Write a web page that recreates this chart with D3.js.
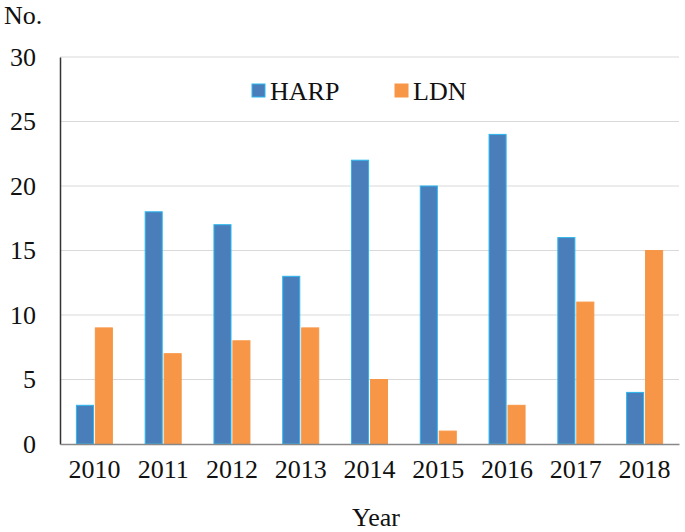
<!DOCTYPE html>
<html><head><meta charset="utf-8">
<script src="https://cdn.jsdelivr.net/npm/d3@7"></script>
<style>body{margin:0;background:#fff}svg{display:block}</style>
</head><body><svg id="c" width="685" height="532"></svg>
<script>
const years = ["2010","2011","2012","2013","2014","2015","2016","2017","2018"];
const harp = [3,18,17,13,22,20,24,16,4];
const ldn = [9,7,8,9,5,1,3,11,15];
const yTicks = [0,5,10,15,20,25,30];
const seriesNames = ["HARP","LDN"];

const FONT = "'Liberation Serif', 'Times New Roman', Times, 'DejaVu Serif', serif";
const svg = d3.select("#c").style("font-family", FONT);
const m = {l:60};
const x = d3.scaleBand().domain(years).range([m.l, 679]).paddingInner(0).paddingOuter(0);
const y = d3.scaleLinear().domain([0,30]).range([444, 57]);
const xs = d3.scaleBand().domain(seriesNames).range([0, 36]).paddingInner(0.1);

// gridlines
svg.append("g").selectAll("line").data(yTicks.filter(d=>d>0)).join("line")
  .attr("x1", m.l).attr("x2", 679).attr("y1", d=>y(d)).attr("y2", d=>y(d))
  .attr("stroke", "#d9d9d9").attr("stroke-width", 1);

// y axis
const ya = svg.append("g").attr("transform", `translate(${m.l},0)`)
  .call(d3.axisLeft(y).tickValues(yTicks).tickSize(0).tickPadding(24));
ya.attr("font-family", null).attr("font-size", null);
ya.select(".domain").attr("stroke", "#333").attr("stroke-width", 1.5);
ya.selectAll("text").style("font-family", FONT).style("font-size", "26px").attr("fill","#111");

// bars
const data = years.map((yr,i)=>({yr, vals:[harp[i], ldn[i]]}));
const colors = ["#4a7ebb","#f79646"];
const strokes = ["#2ab7ee","#f79646"];
const g = svg.append("g");
data.forEach(d=>{
  const cx = x(d.yr) + x.bandwidth()/2 - 18;
  seriesNames.forEach((s,j)=>{
    g.append("rect")
      .attr("x", cx + xs(s)).attr("width", xs.bandwidth())
      .attr("y", y(d.vals[j])).attr("height", y(0)-y(d.vals[j]))
      .attr("fill", colors[j]).attr("stroke", strokes[j]).attr("stroke-width", 1);
  });
});

// x axis
const xa = svg.append("g").attr("transform", `translate(0,444)`)
  .call(d3.axisBottom(x).tickSize(0).tickPadding(16));
xa.attr("font-family", null).attr("font-size", null);
xa.select(".domain").attr("stroke", "#888").attr("stroke-width", 1.5);
xa.selectAll("text").style("font-family", FONT).style("font-size", "26px").attr("fill","#111");

// titles
svg.append("text").attr("x", 4).attr("y", 24).style("font-size", "26px").attr("fill","#111").text("No.");
svg.append("text").attr("x", 376).attr("y", 526).attr("text-anchor","middle").style("font-size", "26px").attr("fill","#111").text("Year");

// legend
const leg = [{name:"HARP", x:252}, {name:"LDN", x:395}];
leg.forEach((l,j)=>{
  svg.append("rect").attr("x", l.x).attr("y", 84).attr("width", 13).attr("height", 13)
    .attr("fill", colors[j]).attr("stroke", strokes[j]).attr("stroke-width", 1);
  svg.append("text").attr("x", l.x + 18).attr("y", 100).style("font-size", "26px").attr("fill","#111").text(l.name);
});
</script></body></html>
